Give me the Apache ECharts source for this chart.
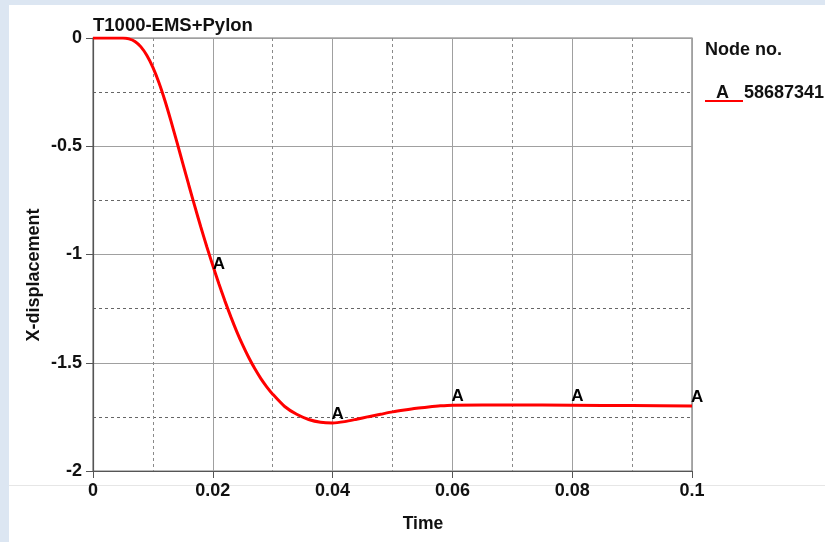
<!DOCTYPE html>
<html>
<head>
<meta charset="utf-8">
<script src="https://cdn.jsdelivr.net/npm/echarts@6/dist/echarts.min.js"></script>
<style>
html,body{margin:0;padding:0;background:#ffffff;}
#chart{width:825px;height:542px;}
</style>
</head>
<body>
<div id="chart"></div>
<script>
// Data
const times = [0, 0.005, 0.006, 0.007, 0.008, 0.009, 0.01, 0.011, 0.012, 0.013, 0.014, 0.015, 0.016, 0.017, 0.018, 0.019, 0.02, 0.021, 0.022, 0.023, 0.024, 0.025, 0.026, 0.027, 0.028, 0.029, 0.03, 0.032, 0.034, 0.036, 0.038, 0.04, 0.042, 0.044, 0.046, 0.048, 0.05, 0.052, 0.054, 0.056, 0.058, 0.06, 0.065, 0.07, 0.08, 0.09, 0.1];
const xDisp = [0, 0, -0.004, -0.016, -0.041, -0.081, -0.136, -0.206, -0.289, -0.382, -0.480, -0.580, -0.680, -0.778, -0.873, -0.964, -1.051, -1.134, -1.213, -1.287, -1.356, -1.419, -1.476, -1.527, -1.572, -1.611, -1.645, -1.702, -1.738, -1.762, -1.775, -1.778, -1.772, -1.761, -1.749, -1.738, -1.727, -1.718, -1.710, -1.704, -1.699, -1.696, -1.695, -1.695, -1.696, -1.698, -1.700];
const markerTimes = [0.02, 0.04, 0.06, 0.08, 0.1];
const markerLetter = 'A';
const nodeId = '58687341';
const chartTitle = 'T1000-EMS+Pylon';
const xName = 'Time';
const yName = 'X-displacement';

const FONT = '"Liberation Sans", Arial, sans-serif';
const lineData = times.map((t, i) => [t, xDisp[i]]);
const markerLabelStyle = { show: true, formatter: markerLetter, align: 'left', verticalAlign: 'top',
  fontFamily: FONT, fontWeight: 'bold', fontSize: 17, color: '#000' };
const markerData = markerTimes.map(t => {
  const i = times.indexOf(t);
  const pos = t === 0.02 ? [0, -10] : [-1, -17];
  return { value: [t, xDisp[i]], label: Object.assign({}, markerLabelStyle, { position: pos }) };
});

const chart = echarts.init(document.getElementById('chart'));
chart.setOption({
  backgroundColor: '#ffffff',
  animation: false,
  grid: { left: 93, right: 133, top: 38, bottom: 71, show: true, borderColor: '#777777', borderWidth: 1.2 },
  title: {
    text: chartTitle, left: 88, top: 11,
    textStyle: { fontFamily: FONT, fontWeight: 'bold', fontSize: 18.5, color: '#111' }
  },
  xAxis: {
    type: 'value', min: 0, max: 0.1, interval: 0.02,
    axisLine: { show: true, onZero: false, lineStyle: { color: '#555', width: 1.2 } },
    axisTick: { show: true, length: 7, lineStyle: { color: '#555' } },
    axisLabel: { fontFamily: FONT, fontWeight: 'bold', fontSize: 18, color: '#111', margin: 11,
      formatter: v => String(+v.toFixed(2)) },
    splitLine: { show: true, lineStyle: { color: '#a0a0a0', width: 1 } },
    minorTick: { show: false, splitNumber: 2 },
    minorSplitLine: { show: true, lineStyle: { color: '#8a8a8a', type: [3, 3], width: 1 } }
  },
  yAxis: {
    type: 'value', min: -2, max: 0, interval: 0.5,
    axisLine: { show: true, onZero: false, lineStyle: { color: '#555', width: 1.2 } },
    axisTick: { show: true, length: 7, lineStyle: { color: '#555' } },
    axisLabel: { fontFamily: FONT, fontWeight: 'bold', fontSize: 18, color: '#111', margin: 11 },
    splitLine: { show: true, lineStyle: { color: '#a0a0a0', width: 1 } },
    minorTick: { show: false, splitNumber: 2 },
    minorSplitLine: { show: true, lineStyle: { color: '#666666', type: [3, 3], width: 1 } }
  },
  series: [
    {
      type: 'line', data: lineData, smooth: 0.25, showSymbol: false, z: 3,
      lineStyle: { color: '#ff0000', width: 3 }
    },
    {
      type: 'scatter', data: markerData, symbolSize: 0, z: 4,
      itemStyle: { opacity: 1 },
      label: markerLabelStyle
    }
  ],
  graphic: [
    { type: 'rect', shape: { x: 0, y: 0, width: 825, height: 5 }, style: { fill: '#dce6f2' }, z: 100 },
    { type: 'rect', shape: { x: 0, y: 0, width: 9, height: 542 }, style: { fill: '#dce6f2' }, z: 100 },
    { type: 'line', shape: { x1: 9, y1: 485.5, x2: 825, y2: 485.5 }, style: { stroke: '#e6e6e6', lineWidth: 1 }, z: 0 },
    { type: 'text', x: 423, y: 524, style: { text: xName, fontFamily: FONT, fontWeight: 'bold', fontSize: 17.5, fill: '#111', align: 'center', verticalAlign: 'middle' } },
    { type: 'text', x: 34, y: 275, rotation: Math.PI / 2, style: { text: yName, fontFamily: FONT, fontWeight: 'bold', fontSize: 18, fill: '#111', align: 'center', verticalAlign: 'middle' } },
    { type: 'text', left: 705, top: 41, style: { text: 'Node no.', fontFamily: FONT, fontWeight: 'bold', fontSize: 18, fill: '#111' } },
    { type: 'line', shape: { x1: 705, y1: 101, x2: 743, y2: 101 }, style: { stroke: '#ff0000', lineWidth: 2 } },
    { type: 'text', left: 716, top: 84, style: { text: markerLetter, fontFamily: FONT, fontWeight: 'bold', fontSize: 18, fill: '#111' } },
    { type: 'text', left: 744, top: 84, style: { text: nodeId, fontFamily: FONT, fontWeight: 'bold', fontSize: 18, fill: '#111' } }
  ]
});
</script>
</body>
</html>
